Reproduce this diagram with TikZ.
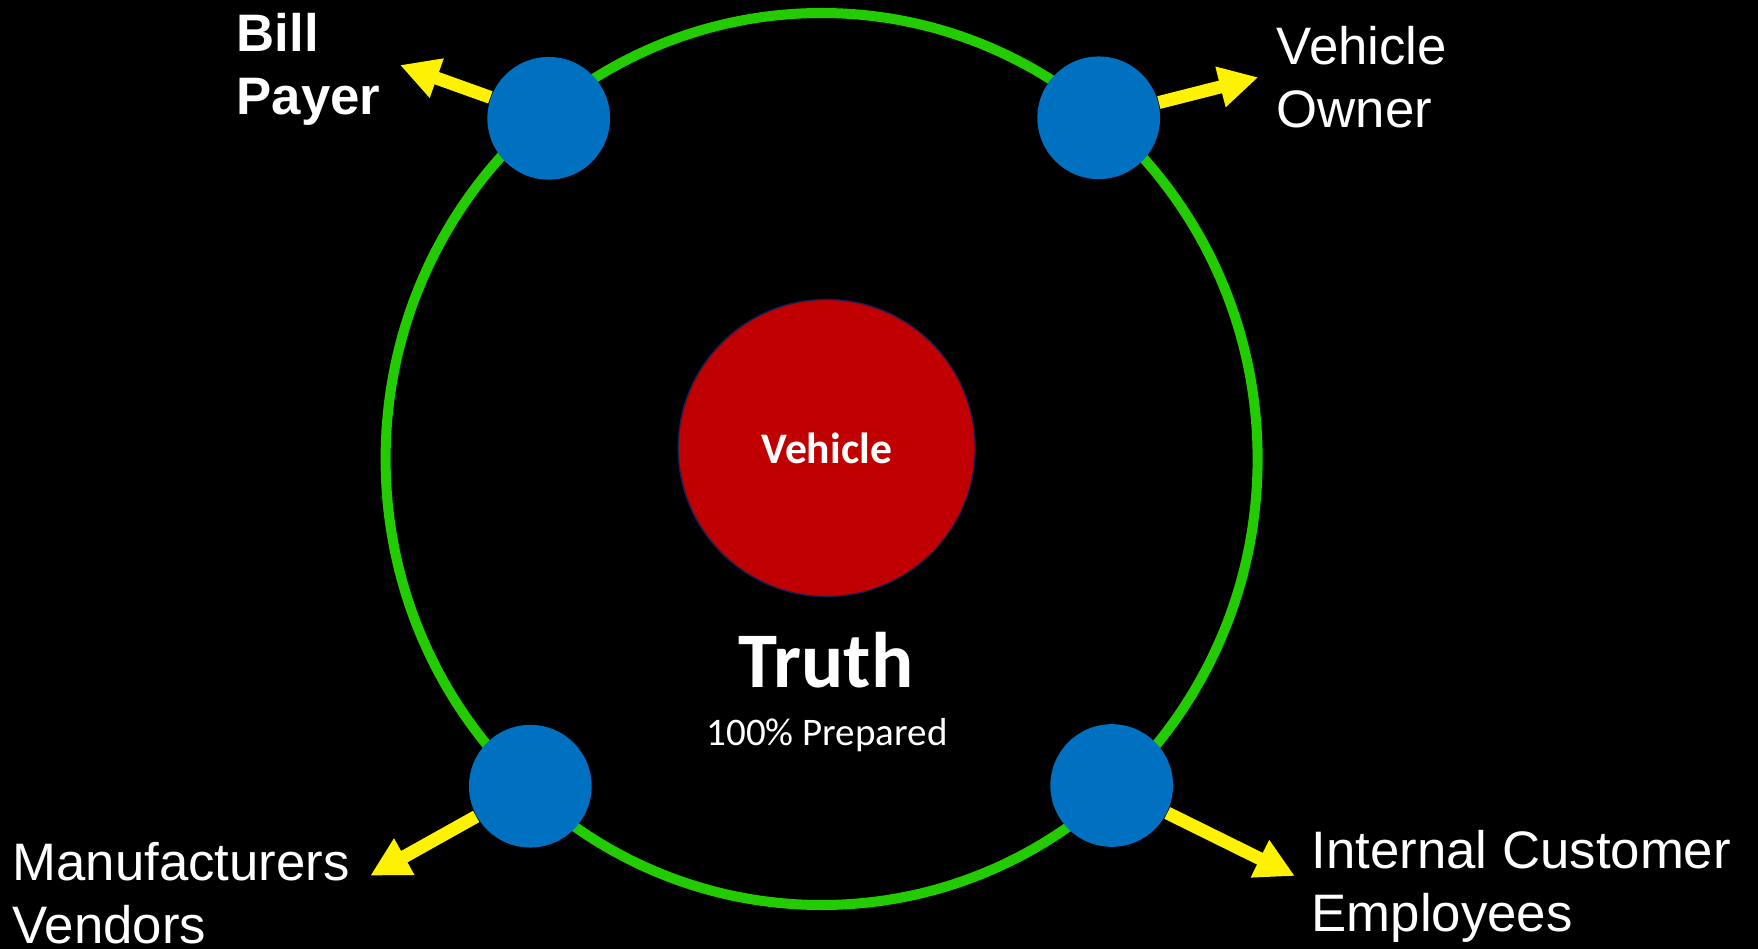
\documentclass[tikz,border=0pt]{standalone}
\usepackage{fontspec}
\setmainfont{Liberation Sans}
\newfontfamily\carlito{Carlito}
\usetikzlibrary{arrows.meta}
\definecolor{ringgreen}{RGB}{34,204,0}
\definecolor{partyblue}{RGB}{0,112,192}
\definecolor{corered}{RGB}{192,0,0}
\definecolor{corenavy}{RGB}{16,32,80}

\begin{document}
\begin{tikzpicture}[x=0.01cm, y=-0.01cm,
	every node/.style={text=white, inner sep=0pt},
	party/.style={circle, fill=partyblue, minimum size=1.226cm},
	pointer/.style={yellow, line width=3.7pt, -{Triangle[width=11.1pt, length=11.1pt]}},
	role/.style={align=left, anchor=base west, font=\fontsize{15pt}{18pt}\selectfont},
	boldrole/.style={role, font=\bfseries\fontsize{15pt}{18pt}\selectfont}]

	% Draw the background
	\useasboundingbox[fill=black] (0,0) rectangle (1758,949);

	% Draw the outer ring
	\draw[ringgreen, line width=2.85pt] (821.6,459) ellipse [x radius=436, y radius=446];

	% Draw the core in the middle
	\node[circle, fill=corered, draw=corenavy, line width=0.4pt, minimum size=2.97cm,
		font=\carlito\bfseries\fontsize{12.4pt}{14pt}\selectfont] (veh) at (826.7,448) {Vehicle};

	\node[anchor=base, font=\carlito\bfseries\fontsize{22.4pt}{26pt}\selectfont] (truth) at (826,687.3) {Truth};
	\node[anchor=base, font=\carlito\fontsize{11.1pt}{13pt}\selectfont] (prep) at (827,745) {100\% Prepared};

	% Draw the parties on the ring
	\node[party] (bp) at (548.7,118.3) {};
	\node[party] (vo) at (1098.7,117.8) {};
	\node[party] (mv) at (530.3,786.2) {};
	\node[party] (ic) at (1111.7,785.5) {};

	% Draw the arrows leaving the parties
	\coordinate (bpTip) at (400,65);
	\coordinate (voTip) at (1258.3,77.3);
	\coordinate (mvTip) at (370.2,875.7);
	\coordinate (icTip) at (1294.9,876);

	\draw[pointer] (bp) -- (bpTip);
	\draw[pointer] (vo) -- (voTip);
	\draw[pointer] (mv) -- (mvTip);
	\draw[pointer] (ic) -- (icTip);

	% Draw the labels at the arrow tips (base is the last line)
	\node[boldrole] (bpLabel) at (236,115) {Bill\\Payer};
	\node[role] (voLabel) at (1276,128) {Vehicle\\Owner};
	\node[role] (mvLabel) at (12,943.3) {Manufacturers\\Vendors};
	\node[role] (icLabel) at (1311,931.7) {Internal Customer\\Employees};

\end{tikzpicture}
\end{document}
